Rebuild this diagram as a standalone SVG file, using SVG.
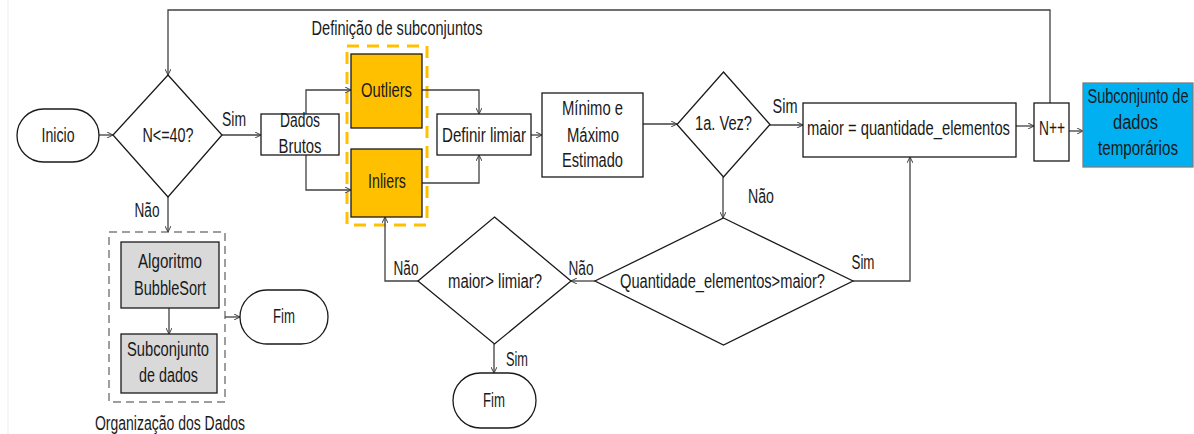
<svg xmlns="http://www.w3.org/2000/svg" width="1194" height="434" viewBox="0 0 1194 434">
  <style>
    text { font-family: "Liberation Sans", Arial, sans-serif; font-size: 20px; fill: #1a1a1a; text-anchor: middle; }
    .box { fill: #ffffff; stroke: #1a1a1a; stroke-width: 1.3; }
    .orange { fill: #FFC000; stroke: #1a1a1a; stroke-width: 1.3; }
    .grey { fill: #D9D9D9; stroke: #1a1a1a; stroke-width: 1.3; }
    .blue { fill: #00B0F0; stroke: #7f7f7f; stroke-width: 1.3; }
    .conn path { fill: none; stroke: #404040; stroke-width: 1.3; marker-end: url(#arr); }
    .frame-o { fill: none; stroke: #FFC000; stroke-width: 3; stroke-dasharray: 12 8; }
    .frame-g { fill: none; stroke: #7f7f7f; stroke-width: 1.5; stroke-dasharray: 8 5; }
  </style>
  <defs>
    <marker id="arr" viewBox="0 0 6 6" refX="6" refY="3" markerWidth="6" markerHeight="6" markerUnits="userSpaceOnUse" orient="auto">
      <path d="M0,0 L6,3 L0,6" fill="none" stroke="#404040" stroke-width="1"/>
    </marker>
  </defs>
  <rect width="1194" height="434" fill="#ffffff"/>
  <line x1="8" y1="0" x2="8" y2="434" stroke="#ececec" stroke-width="1"/>

  <!-- group frames -->
  <g id="frame-subconjuntos">
    <rect class="frame-o" x="347" y="46" width="80" height="179"/>
    <text x="397" y="35" textLength="171" lengthAdjust="spacingAndGlyphs">Definição de subconjuntos</text>
  </g>
  <g id="frame-organizacao">
    <rect class="frame-g" x="109" y="232" width="116" height="170"/>
    <text x="170" y="430" textLength="150" lengthAdjust="spacingAndGlyphs">Organização dos Dados</text>
  </g>

  <!-- connectors -->
  <g id="connectors" class="conn">
    <path d="M99,135 H113"/>
    <path d="M222,135 H261"/>
    <path d="M306,114 V90 H351"/>
    <path d="M306,155 V190 H351"/>
    <path d="M422,90 H479 V114"/>
    <path d="M422,183 H479 V155"/>
    <path d="M531,135 H542"/>
    <path d="M643,124 H677"/>
    <path d="M770,125 H803"/>
    <path d="M1016,126 H1034"/>
    <path d="M1069,131 H1083"/>
    <path d="M1050,103 V10 H168 V75"/>
    <path d="M723,177 V218"/>
    <path d="M853,281 H910 V157"/>
    <path d="M595,281 H571"/>
    <path d="M418,281 H385 V217"/>
    <path d="M494,344 V373"/>
    <path d="M168,197 V232"/>
    <path d="M169,308 V334"/>
    <path d="M225,317 H240"/>
  </g>

  <!-- connector labels -->
  <g id="labels">
    <text x="234" y="126" textLength="24" lengthAdjust="spacingAndGlyphs">Sim</text>
    <text x="147" y="217" textLength="25" lengthAdjust="spacingAndGlyphs">Não</text>
    <text x="785" y="113" textLength="25" lengthAdjust="spacingAndGlyphs">Sim</text>
    <text x="761" y="203" textLength="26" lengthAdjust="spacingAndGlyphs">Não</text>
    <text x="863" y="269" textLength="23" lengthAdjust="spacingAndGlyphs">Sim</text>
    <text x="581" y="275" textLength="25" lengthAdjust="spacingAndGlyphs">Não</text>
    <text x="406" y="275" textLength="25" lengthAdjust="spacingAndGlyphs">Não</text>
    <text x="517" y="366" textLength="22" lengthAdjust="spacingAndGlyphs">Sim</text>
  </g>

  <!-- nodes -->
  <g id="inicio">
    <rect class="box" x="17" y="109" width="82" height="53" rx="26.5"/>
    <text x="58" y="142" textLength="33" lengthAdjust="spacingAndGlyphs">Inicio</text>
  </g>
  <g id="dec-n40">
    <polygon class="box" points="168,75 222,135 168,197 113,135"/>
    <text x="168" y="142" textLength="51" lengthAdjust="spacingAndGlyphs">N&lt;=40?</text>
  </g>
  <g id="dados-brutos">
    <rect class="box" x="261" y="114" width="78" height="41"/>
    <text x="300" y="127" textLength="40" lengthAdjust="spacingAndGlyphs">Dados</text>
    <text x="300" y="153" textLength="43" lengthAdjust="spacingAndGlyphs">Brutos</text>
  </g>
  <g id="outliers">
    <rect class="orange" x="351" y="54" width="71" height="74"/>
    <text x="386.5" y="97" textLength="51" lengthAdjust="spacingAndGlyphs">Outliers</text>
  </g>
  <g id="inliers">
    <rect class="orange" x="351" y="149" width="71" height="68"/>
    <text x="387" y="188" textLength="38" lengthAdjust="spacingAndGlyphs">Inliers</text>
  </g>
  <g id="definir-limiar">
    <rect class="box" x="437" y="114" width="94" height="41"/>
    <text x="484" y="142" textLength="84" lengthAdjust="spacingAndGlyphs">Definir limiar</text>
  </g>
  <g id="minimo-maximo">
    <rect class="box" x="542" y="93" width="101" height="84"/>
    <text x="592.5" y="115" textLength="61" lengthAdjust="spacingAndGlyphs">Mínimo e</text>
    <text x="593" y="142" textLength="52" lengthAdjust="spacingAndGlyphs">Máximo</text>
    <text x="592.5" y="167" textLength="61" lengthAdjust="spacingAndGlyphs">Estimado</text>
  </g>
  <g id="dec-primeira">
    <polygon class="box" points="723.5,72 770,124.5 723.5,177 677,124.5"/>
    <text x="723.5" y="130" textLength="57" lengthAdjust="spacingAndGlyphs">1a. Vez?</text>
  </g>
  <g id="maior-quantidade">
    <rect class="box" x="803" y="103" width="213" height="54"/>
    <text x="908.5" y="135" textLength="203" lengthAdjust="spacingAndGlyphs">maior = quantidade_elementos</text>
  </g>
  <g id="n-incremento">
    <rect class="box" x="1034" y="103" width="35" height="58"/>
    <text x="1052" y="135" textLength="26" lengthAdjust="spacingAndGlyphs">N++</text>
  </g>
  <g id="subconjunto-temporarios">
    <rect class="blue" x="1083" y="83" width="110" height="84"/>
    <text x="1138" y="103" textLength="101" lengthAdjust="spacingAndGlyphs">Subconjunto de</text>
    <text x="1135.5" y="129" textLength="45" lengthAdjust="spacingAndGlyphs">dados</text>
    <text x="1138" y="155" textLength="80" lengthAdjust="spacingAndGlyphs">temporários</text>
  </g>
  <g id="dec-quantidade">
    <polygon class="box" points="723.5,218 853,281 723.5,345 595,281"/>
    <text x="722.5" y="288" textLength="205" lengthAdjust="spacingAndGlyphs">Quantidade_elementos&gt;maior?</text>
  </g>
  <g id="dec-limiar">
    <polygon class="box" points="494.5,217 571,281 494.5,344 418,281"/>
    <text x="495" y="288" textLength="94" lengthAdjust="spacingAndGlyphs">maior&gt; limiar?</text>
  </g>
  <g id="fim-limiar">
    <rect class="box" x="453" y="373" width="83" height="55" rx="27.5"/>
    <text x="494" y="407" textLength="22" lengthAdjust="spacingAndGlyphs">Fim</text>
  </g>
  <g id="bubblesort">
    <rect class="grey" x="121" y="242" width="98" height="66"/>
    <text x="170" y="268" textLength="64" lengthAdjust="spacingAndGlyphs">Algoritmo</text>
    <text x="170" y="295" textLength="72" lengthAdjust="spacingAndGlyphs">BubbleSort</text>
  </g>
  <g id="subconjunto-dados">
    <rect class="grey" x="121" y="334" width="96" height="59"/>
    <text x="168" y="356" textLength="82" lengthAdjust="spacingAndGlyphs">Subconjunto</text>
    <text x="168.5" y="382" textLength="59" lengthAdjust="spacingAndGlyphs">de dados</text>
  </g>
  <g id="fim-organizacao">
    <rect class="box" x="240" y="290" width="88" height="54" rx="27"/>
    <text x="284" y="323" textLength="22" lengthAdjust="spacingAndGlyphs">Fim</text>
  </g>
</svg>
